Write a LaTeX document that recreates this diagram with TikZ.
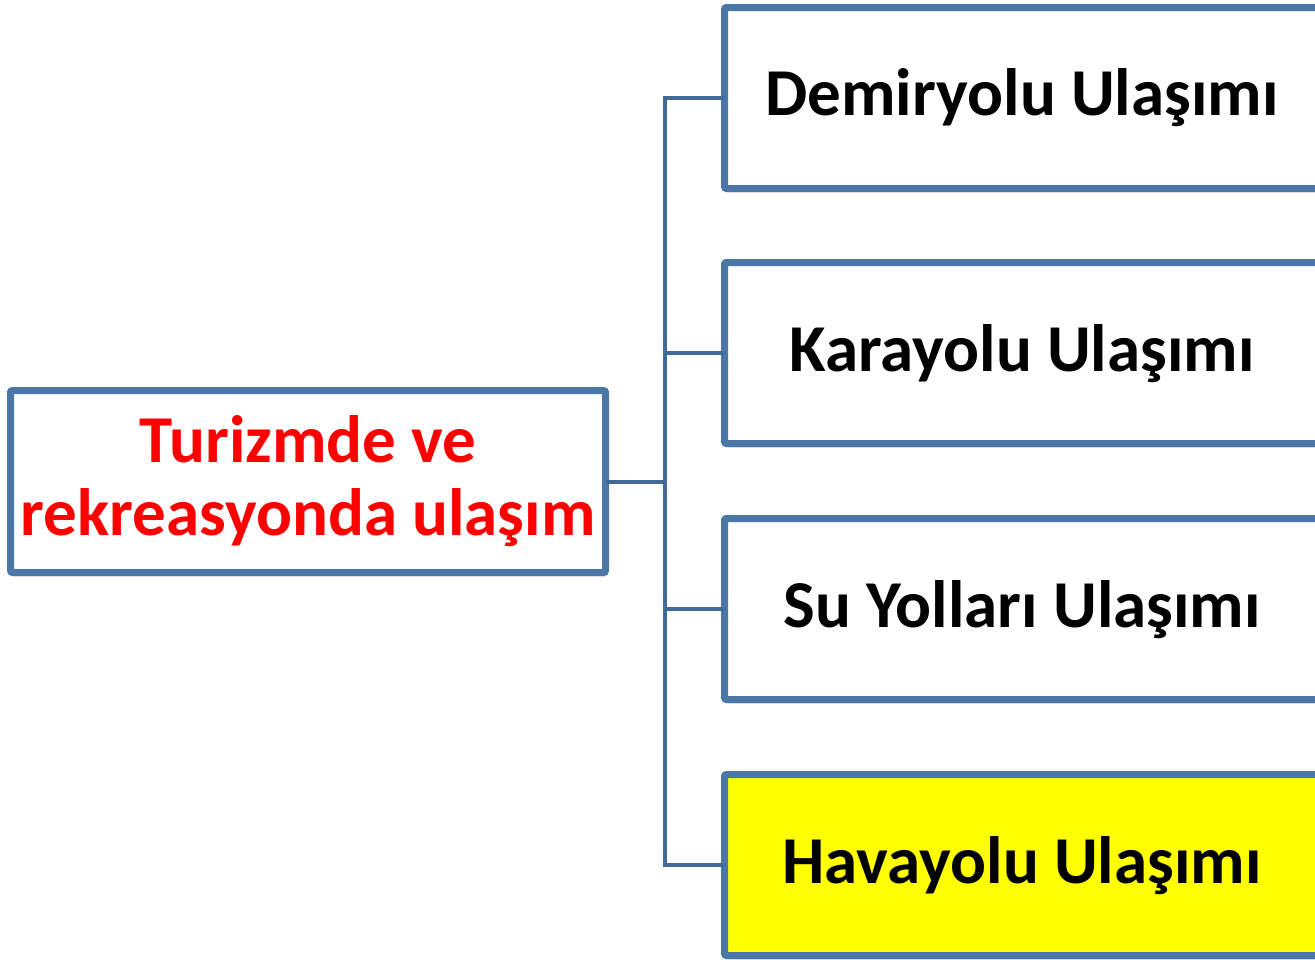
\documentclass[tikz,border=0pt]{standalone}
\usepackage{fontspec}
\setmainfont{Carlito}
\usetikzlibrary{positioning, shadows}

\definecolor{boxblue}{HTML}{4A76A8}
\definecolor{linkblue}{HTML}{41699A}
\definecolor{titlered}{HTML}{FF0000}
\definecolor{markyellow}{HTML}{FFFF00}

\tikzset{
  mode/.style={draw=boxblue, line width=3.5pt, fill=white, rectangle, rounded corners=1pt,
    minimum width=298pt, minimum height=90.5pt, inner sep=0pt, outer sep=0pt,
    font=\fontsize{33.5}{36.5}\selectfont\bfseries,
    drop shadow={shadow xshift=1pt, shadow yshift=-2pt, opacity=0.25}},
  label/.style={font=\fontsize{33.5}{36.5}\selectfont\bfseries},
  link/.style={draw=linkblue, line width=2pt}
}

\begin{document}
\begin{tikzpicture}[x=0.5pt, y=-0.5pt]
    \useasboundingbox (0,0) rectangle (1315,959);
    \clip (0,0) rectangle (1315,959);

    \node[mode, minimum width=297.5pt, minimum height=91pt, align=center, text=titlered] (topic) at (308,481.5)
      {Turizmde ve\\rekreasyonda ulaşım};

    \node[mode, anchor=north west] (rail) at (724.5,7.5) {};
    \node[mode, anchor=north west] (road) at (724.5,262.5) {};
    \node[mode, anchor=north west] (sea) at (724.5,518.5) {};
    \node[mode, anchor=north west, fill=markyellow] (air) at (724.5,774.5) {};

    \node[label] (rail-t) at (1022,98) {Demiryolu Ulaşımı};
    \node[label] (road-t) at (1022,354) {Karayolu Ulaşımı};
    \node[label] (sea-t) at (1022,610) {Su Yolları Ulaşımı};
    \node[label] (air-t) at (1022,866) {Havayolu Ulaşımı};

    \coordinate (hub) at (665,481.5);
    \draw[link] (topic.east) -- (hub);
    \draw[link] (hub) |- (rail.west);
    \draw[link] (hub) |- (road.west);
    \draw[link] (hub) |- (sea.west);
    \draw[link] (hub) |- (air.west);
\end{tikzpicture}
\end{document}
